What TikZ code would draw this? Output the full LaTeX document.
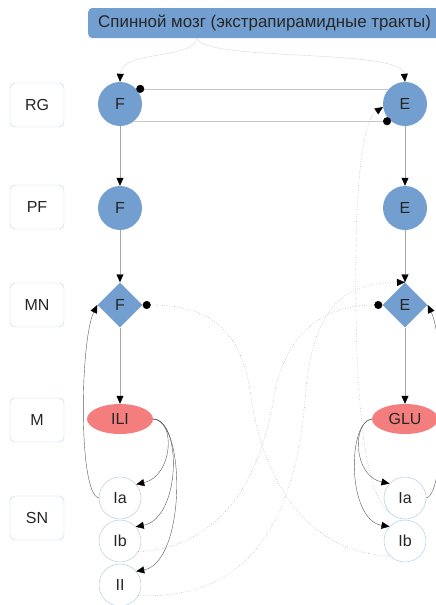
\documentclass[tikz,border=0pt]{standalone}
\usepackage{fontspec}
\setmainfont{Liberation Sans}
\usetikzlibrary{shapes.geometric,arrows.meta}

\definecolor{nodeblue}{HTML}{729FCF}
\definecolor{musclered}{HTML}{F47E7E}
\definecolor{boxline}{HTML}{BFD1EA}
\definecolor{snline}{HTML}{A9C4E4}

\tikzset{
  level/.style={draw=boxline, rounded corners=5pt, fill=white, minimum width=54pt, minimum height=44pt},
  neuron/.style={circle, fill=nodeblue, minimum size=44pt, inner sep=0pt},
  motor/.style={diamond, fill=nodeblue, minimum size=45pt, inner sep=0pt},
  muscle/.style={ellipse, fill=musclered, minimum width=66pt, minimum height=30pt, inner sep=0pt},
  sensor/.style={circle, draw=snline, fill=white, minimum size=42pt, inner sep=0pt},
  tip/.style={-{Triangle[length=8pt,width=7pt,color=black]}},
  feed/.style={tip, draw=black!15},
  chain/.style={tip, draw=black!35},
  reflex/.style={tip, draw=black!65},
  cross/.style={tip, draw=black!55, dotted},
  inhib/.style={-{Circle[length=8pt,color=black]}, draw=black!22},
  inhibdot/.style={-{Circle[length=8pt,color=black]}, draw=black!55, dotted},
}

\begin{document}
\begin{tikzpicture}[x=1pt,y=-1pt, every node/.style={font=\fontsize{16}{18}\selectfont, text=black!85}]
	\clip (0,0) rectangle (436,605);
	\useasboundingbox (0,0) rectangle (436,605);

	% header
	\node[fill=nodeblue, rounded corners=4pt, minimum height=30pt, inner xsep=10pt, anchor=west, font=\fontsize{16.9}{19}\selectfont] (spine) at (88,23) {Спинной мозг (экстрапирамидные тракты)};

	% levels
	\node[level] (rg) at (37,105) {RG};
	\node[level] (pf) at (37,207) {PF};
	\node[level] (mn) at (37,305) {MN};
	\node[level] (m) at (37,420) {M};
	\node[level] (sn) at (37,518) {SN};

	% flexor side
	\node[neuron] (fRG) at (120,104) {F};
	\node[neuron] (fPF) at (120,208) {F};
	\node[motor] (fMN) at (120,305) {F};
	\node[muscle] (ili) at (120,419) {ILI};
	\node[sensor] (fIa) at (120,498) {Ia};
	\node[sensor] (fIb) at (120,541) {Ib};
	\node[sensor] (fII) at (120,585) {II};

	% extensor side
	\node[neuron] (eRG) at (405,104) {E};
	\node[neuron] (ePF) at (405,208) {E};
	\node[motor] (eMN) at (405,305) {E};
	\node[muscle] (glu) at (405,419) {GLU};
	\node[sensor] (eIa) at (405,498) {Ia};
	\node[sensor] (eIb) at (405,541) {Ib};

	% descending input
	\draw[feed] ([xshift=109pt]spine.south west) .. controls (193,60) and (121,50) .. (fRG.north);
	\draw[feed] ([xshift=109pt]spine.south west) .. controls (205,62) and (402,48) .. (eRG.north);

	% rhythm generator, mutual inhibition
	\draw[inhib] (eRG.137) -- (fRG.43);
	\draw[inhib] (fRG.-51) -- (eRG.231);

	% vertical chains
	\draw[chain] (fRG) -- (fPF);
	\draw[chain] (fPF) -- (fMN);
	\draw[chain] (fMN) -- (ili);
	\draw[chain] (eRG) -- (ePF);
	\draw[chain] (ePF) -- (eMN);
	\draw[chain] (eMN) -- (glu);

	% muscle to afferents
	\draw[reflex] (ili.east) .. controls (176,420) and (173,476) .. (fIa.40);
	\draw[reflex] (ili.east) .. controls (182,420) and (181,518) .. (fIb.42);
	\draw[reflex] (ili.east) .. controls (186,420) and (186,562) .. (fII.40);
	\draw[reflex] (glu.west) .. controls (352,422) and (353,476) .. (eIa.137);
	\draw[reflex] (glu.west) .. controls (347,422) and (347,520) .. (eIb.137);

	% monosynaptic Ia
	\draw[reflex] (fIa.west) .. controls (78,494) and (80,340) .. (fMN.west);
	\draw[reflex] (eIa.east) .. controls (447,494) and (445,340) .. (eMN.east);

	% crossed pathways
	\draw[cross] (eIa.225) .. controls (356,490) and (355,330) .. (356,250) .. controls (357,160) and (366,118) .. (eRG.188);
	\draw[inhibdot] (eIb.225) .. controls (300,552) and (260,470) .. (250,390) .. controls (240,330) and (210,305) .. (fMN.east);
	\draw[inhibdot] (fIb.-30) .. controls (220,548) and (262,480) .. (275,390) .. controls (290,325) and (330,305) .. (eMN.west);
	\draw[cross] (fII.-30) .. controls (250,600) and (295,520) .. (305,400) .. controls (312,310) and (340,283) .. (eMN.north);
\end{tikzpicture}
\end{document}
